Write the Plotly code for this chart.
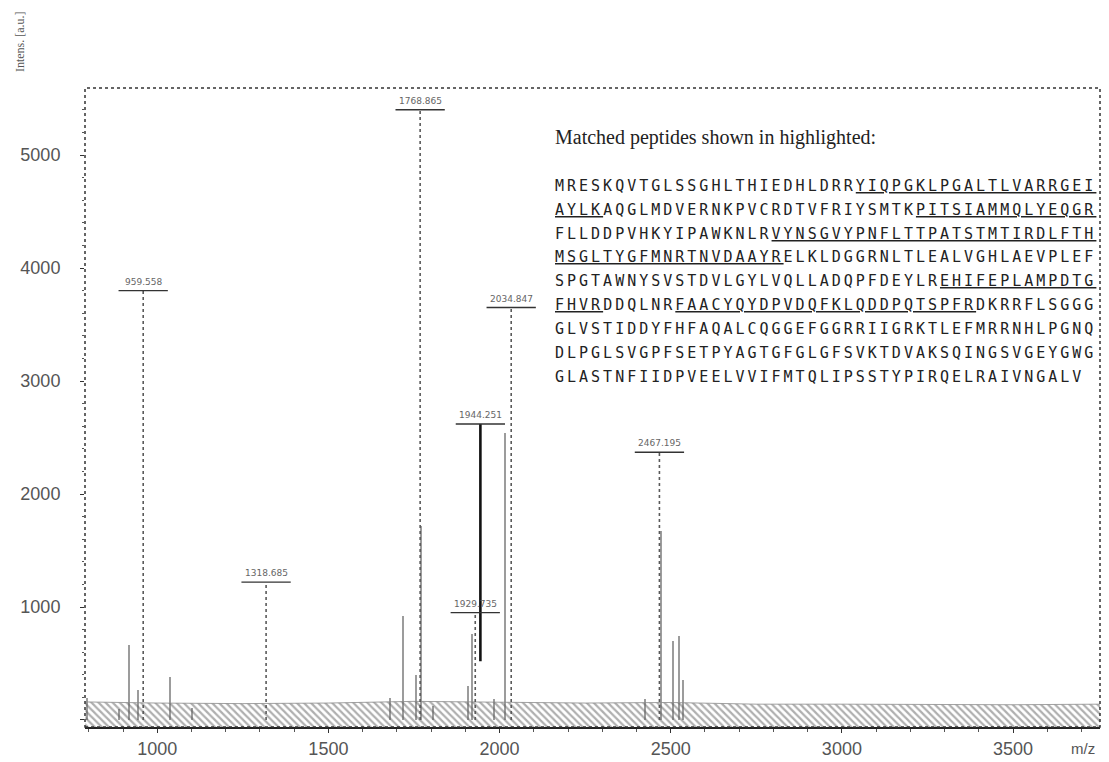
import plotly.graph_objects as go

# ---------------- data ----------------
# unlabelled spectrum peaks (m/z, intensity a.u.)
peak_mz = [796, 889, 918, 944, 1038, 1102, 1681, 1719, 1757, 1771, 1806,
           1909, 1920, 1985, 2017, 2426, 2472, 2507, 2525, 2537]
peak_int = [195, 100, 660, 265, 380, 110, 195, 920, 400, 1720, 120,
            300, 760, 190, 2540, 190, 1670, 700, 740, 350]

# labelled (matched) peaks
label_mz = [959, 1318, 1768, 1929, 2034, 2467]
label_int = [3800, 1220, 5400, 950, 3650, 2370]
label_text = ["959.558", "1318.685", "1768.865", "1929.735", "2034.847", "2467.195"]

# labelled peak drawn with a bold connector
bold_mz = [1944]
bold_base = [520]
bold_int = [2620]
bold_text = ["1944.251"]

# baseline noise band
noise_mz = [790, 1000, 1250, 1500, 1750, 2000, 2250, 2500, 2750, 3000, 3250, 3500, 3754]
noise_int = [160, 150, 145, 150, 165, 160, 150, 155, 140, 140, 135, 135, 140]

x_tickvals = [1000, 1500, 2000, 2500, 3000, 3500]
x_ticktext = ["1000", "1500", "2000", "2500", "3000", "3500"]
y_tickvals = [0, 1000, 2000, 3000, 4000, 5000]
y_ticktext = ["", "1000", "2000", "3000", "4000", "5000"]

header = "Matched peptides shown in highlighted:"
seq_lines = [
    "MRESKQVTGLSSGHLTHIEDHLDRR<u>YIQPGKLPGALTLVARRGEI</u>",
    "<u>AYLK</u>AQGLMDVERNKPVCRDTVFRIYSMTK<u>PITSIAMMQLYEQGR</u>",
    "FLLDDPVHKYIPAWKNLR<u>VYNSGVYPNFLTTPATSTMTIRDLFTH</u>",
    "<u>MSGLTYGFMNRTNVDAAYR</u>ELKLDGGRNLTLEALVGHLAEVPLEF",
    "SPGTAWNYSVSTDVLGYLVQLLADQPFDEYLR<u>EHIFEPLAMPDTG</u>",
    "<u>FHVR</u>DDQLNR<u>FAACYQYDPVDQFKLQDDPQTSPFR</u>DKRRFLSGGG",
    "GLVSTIDDYFHFAQALCQGGEFGGRRIIGRKTLEFMRRNHLPGNQ",
    "DLPGLSVGPFSETPYAGTGFGLGFSVKTDVAKSQINGSVGEYGWG",
    "GLASTNFIIDPVEELVVIFMTQLIPSSTYPIRQELRAIVNGALV",
]

# ---------------- figure ----------------
x_range = [789, 3754]
y_range = [-62, 5593]

fig = go.Figure()

# noise band (hatched)
fig.add_trace(go.Scatter(x=noise_mz, y=[y_range[0]] * len(noise_mz), mode="lines",
                         line=dict(width=0), hoverinfo="skip", showlegend=False))
fig.add_trace(go.Scatter(x=noise_mz, y=noise_int, mode="lines", fill="tonexty",
                         line=dict(width=0.8, color="#8a8a8a"),
                         fillcolor="rgba(255,255,255,0)",
                         fillpattern=dict(shape="\\", fgcolor="#5f5f5f", size=5, solidity=0.45),
                         hoverinfo="skip", showlegend=False))

# unlabelled peaks
fig.add_trace(go.Bar(x=peak_mz, y=peak_int, width=6,
                     marker=dict(color="#9c9c9c", line=dict(width=0)),
                     showlegend=False))

# labelled peaks as dotted sticks
lx, ly = [], []
for m, h in zip(label_mz, label_int):
    lx += [m, m, None]
    ly += [0, h, None]
fig.add_trace(go.Scatter(x=lx, y=ly, mode="lines",
                         line=dict(color="#5a5a5a", width=1.6, dash="dot"),
                         hoverinfo="skip", showlegend=False))

# bold connector peak
bx, by = [], []
for m, b, h in zip(bold_mz, bold_base, bold_int):
    bx += [m, m, None]
    by += [b, h, None]
fig.add_trace(go.Scatter(x=bx, y=by, mode="lines",
                         line=dict(color="#111111", width=2.6),
                         hoverinfo="skip", showlegend=False))

# peak labels with underline
half_w = 72
for m, h, t in list(zip(label_mz, label_int, label_text)) + list(zip(bold_mz, bold_int, bold_text)):
    fig.add_shape(type="line", xref="x", yref="y", x0=m - half_w, x1=m + half_w, y0=h, y1=h,
                  line=dict(color="#333333", width=1.4))
    fig.add_annotation(x=m, y=h, xref="x", yref="y", text=t, showarrow=False,
                       yanchor="bottom", yshift=2,
                       font=dict(family="DejaVu Sans", size=9, color="#666666"))

# plot frame (dotted)
fig.add_shape(type="rect", xref="paper", yref="paper", x0=0, x1=1, y0=0, y1=1,
              line=dict(color="#333333", width=1.5, dash="dot"), layer="above")

# header + sequence text
fig.add_annotation(xref="paper", yref="paper", x=0.461, y=0.923, xanchor="left", yanchor="middle",
                   text=header, showarrow=False,
                   font=dict(family="Liberation Serif", size=20, color="#222222"))
for i, line in enumerate(seq_lines):
    fig.add_annotation(xref="paper", yref="paper", x=0.461, y=0.847 - i * 0.0374,
                       xanchor="left", yanchor="middle", showarrow=False,
                       text="<span style='letter-spacing:3.0px'>" + line + "</span>",
                       font=dict(family="DejaVu Sans Mono", size=15, color="#222222"))

# axis titles
fig.add_annotation(xref="paper", yref="paper", x=-0.064, y=1.072, text="Intens. [a.u.]",
                   textangle=-90, showarrow=False, xanchor="center", yanchor="middle",
                   font=dict(family="Liberation Serif", size=12, color="#555555"))
fig.add_annotation(xref="paper", yref="paper", x=0.983, y=-0.033, text="m/z",
                   showarrow=False, xanchor="center", yanchor="middle",
                   font=dict(family="Liberation Sans", size=15, color="#555555"))

# margins compensate the page's default 8px body offset
fig.update_layout(
    width=1109, height=762,
    margin=dict(l=77, r=17, t=80, b=43),
    paper_bgcolor="white", plot_bgcolor="white",
    bargap=0, showlegend=False,
    xaxis=dict(range=x_range, tickvals=x_tickvals, ticktext=x_ticktext,
               showgrid=False, zeroline=False, showline=True, linecolor="#222222", linewidth=2,
               ticks="outside", ticklen=4, tickcolor="#333333",
               minor=dict(dtick=100, ticks="outside", ticklen=3, tickcolor="#555555"),
               tickfont=dict(family="Liberation Sans", size=18, color="#555555")),
    yaxis=dict(range=y_range, tickvals=y_tickvals, ticktext=y_ticktext,
               showgrid=False, zeroline=False, showline=False,
               ticks="outside", ticklen=4, tickcolor="#333333",
               minor=dict(dtick=200, ticks="outside", ticklen=2, tickcolor="#555555"),
               ticklabelstandoff=16,
               tickfont=dict(family="Liberation Sans", size=18, color="#555555")),
)

fig.write_html("out.html")
